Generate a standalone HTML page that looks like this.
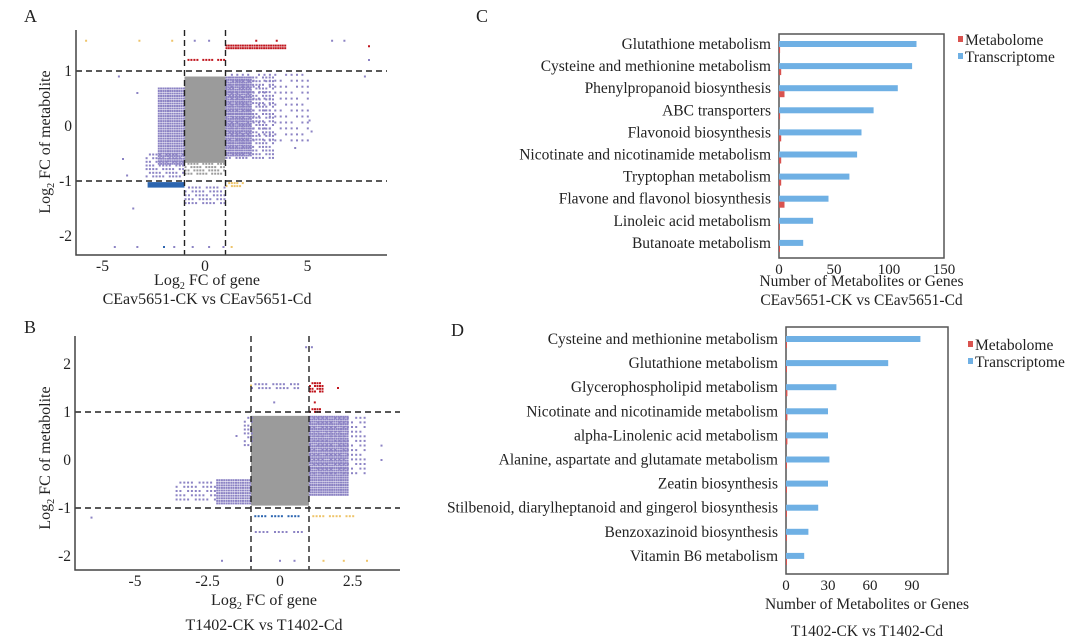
<!DOCTYPE html>
<html><head><meta charset="utf-8">
<style>
html,body{margin:0;padding:0;background:#fff;}
svg{display:block;font-family:"Liberation Serif",serif;}
</style></head>
<body>
<svg id="fig" width="1080" height="642" viewBox="0 0 1080 642" xmlns="http://www.w3.org/2000/svg">
<g id="pA"></g>
<g id="pB"></g>
<g id="pC"></g>
<g id="pD"></g>
</svg>
<script>
// ---------- Panel C data ----------
const catsC = ["Glutathione metabolism","Cysteine and methionine metabolism","Phenylpropanoid biosynthesis","ABC transporters","Flavonoid biosynthesis","Nicotinate and nicotinamide metabolism","Tryptophan metabolism","Flavone and flavonol biosynthesis","Linoleic acid metabolism","Butanoate metabolism"];
const transC = [125,121,108,86,75,71,64,45,31,22];
const metabC = [1,2,5,1,2,2,2,5,0.5,0.5];
const ticksC = [0,50,100,150];
// ---------- Panel D data ----------
const catsD = ["Cysteine and methionine metabolism","Glutathione metabolism","Glycerophospholipid metabolism","Nicotinate and nicotinamide metabolism","alpha-Linolenic acid metabolism","Alanine, aspartate and glutamate metabolism","Zeatin biosynthesis","Stilbenoid, diarylheptanoid and gingerol biosynthesis","Benzoxazinoid biosynthesis","Vitamin B6 metabolism"];
const transD = [96,73,36,30,30,31,30,23,16,13];
const metabD = [0.3,0.5,1,1,1,0.5,0.3,0.3,0.3,0.3];
const ticksD = [0,30,60,90];
// ---------- Panel A scatter data (clusters: x0,x1,y0,y1 in log2 units) ----------
const ticksAx = [-5,0,5];
const ticksAy = [1,0,-1,-2];
const clusterAx0 = [-1, -2.3, -2.9, 1, 1, 1, -2.8, 1, -1, 1, -1, -1];
const clusterAx1 = [1, -1, -1, 2.2, 3.4, 5.2, -1, 1.9, 1, 3.9, 1, 1];
const clusterAy0 = [-0.67, -0.7, -0.95, -0.55, -0.6, -0.3, -1.12, -1.1, -1.45, 1.42, 1.17, -0.9];
const clusterAy1 = [0.9, 0.7, -0.5, 0.9, 0.9, 0.95, -1.02, -1.02, -1.1, 1.48, 1.22, -0.67];
const clusterAc = ["gray","purple","purple","purple","purple","purple","blue","yellow","purple","red","red","gray"];
const clusterAd = [1, 0.85, 0.4, 0.9, 0.4, 0.15, 1, 0.6, 0.35, 0.8, 0.5, 0.5];
const ptsAx = [-5.8,-3.2,-1.6,-0.5,0.2,2.5,3.5,6.2,6.8,8,8,7.8,-4.4,-3.3,-2,-1.5,-0.6,0.2,0.9,1.3,-3.5,4.4,5.1,5.2,-4,-3.8,-3.3,-4.2];
const ptsAy = [1.55,1.55,1.55,1.55,1.55,1.55,1.55,1.55,1.55,1.45,1.2,0.9,-2.2,-2.2,-2.2,-2.2,-2.2,-2.2,-2.2,-2.2,-1.5,-0.4,0.1,-0.1,-0.6,-0.9,0.6,0.9];
const ptsAc = ["yellow","yellow","yellow","purple","purple","red","red","purple","purple","red","purple","purple","purple","purple","blue","purple","purple","purple","purple","yellow","purple","purple","purple","purple","purple","purple","purple","purple"];
// ---------- Panel B scatter data ----------
const ticksBx = [-5,-2.5,0,2.5];
const ticksBy = [2,1,0,-1,-2];
const clusterBx0 = [-1, -1.25, 1, 1, -2.2, -3.6, 1, 1, -1, -1, -1, 1];
const clusterBx1 = [1, -1, 2.3, 3, -1, -2.2, 1.5, 1.4, 0.6, 0.8, 0.8, 2.5];
const clusterBy0 = [-0.95, 0.3, -0.75, -0.3, -0.9, -0.85, 1.4, 1.0, 1.45, -1.22, -1.55, -1.22];
const clusterBy1 = [0.92, 0.9, 0.92, 0.9, -0.4, -0.45, 1.62, 1.08, 1.6, -1.15, -1.48, -1.15];
const clusterBc = ["gray","purple","purple","purple","purple","purple","red","red","purple","blue","purple","yellow"];
const clusterBd = [1, 0.35, 0.9, 0.25, 0.8, 0.3, 0.7, 0.7, 0.35, 0.4, 0.3, 0.4];
const ptsBx = [-6.5,-2,-1,0,0.5,1.5,2.2,-1,0.9,1.1,3,3.5,3.5,1.2,2,-1.5,-0.2];
const ptsBy = [-1.2,-2.1,-2.1,-2.1,-2.1,-2.1,-2.1,1.55,2.35,2.35,-2.1,0.3,0,1.2,1.5,0.5,1.2];
const ptsBc = ["purple","purple","purple","purple","purple","yellow","yellow","yellow","purple","purple","yellow","purple","purple","red","red","purple","purple"];

const NS = "http://www.w3.org/2000/svg";
const COLORS = {gray:"#9b9b9b",purple:"#8c83c4",red:"#c0161e",blue:"#2d66b0",yellow:"#eec46a"};
function mk(parent, tag, attrs, text){
  const e = document.createElementNS(NS, tag);
  for (const k in attrs) e.setAttribute(k, attrs[k]);
  if (text !== undefined) e.textContent = text;
  parent.appendChild(e);
  return e;
}

// ---------- scatter panels ----------
function scatter(g, cfg){
  const X = v => cfg.x0 + v*cfg.kx;
  const Y = v => cfg.y0 - v*cfg.ky;
  for (let i=0;i<cfg.cx0.length;i++){
    const px0 = X(cfg.cx0[i]), px1 = X(cfg.cx1[i]);
    const py1 = Y(cfg.cy0[i]), py0 = Y(cfg.cy1[i]);
    const col = COLORS[cfg.cc[i]];
    if (cfg.cd[i] >= 1){
      const r = mk(g,"rect",{x:px0,y:py0,width:px1-px0,height:py1-py0,fill:col});
      
      
      continue;
    }
    const cg = mk(g,"g",{fill:col});
    
    
    const step = 2.1 / Math.sqrt(cfg.cd[i]);
    let row = 0;
    for (let yy=py0; yy<=py1; yy+=step*1.1){
      row++;
      let col2 = 0;
      for (let xx=px0; xx<=px1; xx+=step){
        col2++;
        if (((row*7+col2*3) % 5) === 0 && cfg.cd[i] < 0.8) continue;
        mk(cg,"rect",{x:xx.toFixed(1),y:yy.toFixed(1),width:2,height:2});
      }
    }
  }
  for (let i=0;i<cfg.px.length;i++){
    const p = mk(g,"rect",{x:X(cfg.px[i])-1,y:Y(cfg.py[i])-1,width:2,height:2,fill:COLORS[cfg.pc[i]]});
    
    
  }
  const dl = [[X(-1),cfg.top,X(-1),cfg.bottom],[X(1),cfg.top,X(1),cfg.bottom],[cfg.left,Y(1),cfg.right,Y(1)],[cfg.left,Y(-1),cfg.right,Y(-1)]];
  dl.forEach(d=>{
    const l = mk(g,"line",{x1:d[0],y1:d[1],x2:d[2],y2:d[3],stroke:"#222","stroke-width":1.4,"stroke-dasharray":"6 4"});
    
    
  });
  const ax = mk(g,"path",{d:`M${cfg.left} ${cfg.top} V${cfg.bottom} H${cfg.right}`,fill:"none",stroke:"#444","stroke-width":1.5});
  
  
  cfg.tx.forEach(t=>{
    const e = mk(g,"text",{x:X(t),y:cfg.bottom+16,"text-anchor":"middle","font-size":15.5,fill:"#222"},String(t));
    
    
  });
  cfg.ty.forEach(t=>{
    const e = mk(g,"text",{x:cfg.left-4,y:Y(t)+5,"text-anchor":"end","font-size":15.5,fill:"#222"},String(t));
    
    
  });
  const yt = mk(g,"text",{x:0,y:0,"text-anchor":"middle","font-size":16,fill:"#222",transform:`translate(${cfg.ytx},${cfg.yty}) rotate(-90)`});
  
  
  yt.innerHTML = 'Log<tspan font-size="10" dy="4">2</tspan><tspan dy="-4"> FC of metabolite</tspan>';
  const xt = mk(g,"text",{x:cfg.xtx,y:cfg.xty,"text-anchor":"middle","font-size":16,fill:"#222"});
  
  
  xt.innerHTML = 'Log<tspan font-size="10" dy="4">2</tspan><tspan dy="-4"> FC of gene</tspan>';
  const st = mk(g,"text",{x:cfg.xtx,y:cfg.sty,"text-anchor":"middle","font-size":16,fill:"#222"},cfg.sub);
  
  
  const lt = mk(g,"text",{x:cfg.lx,y:cfg.ly,"font-size":18,fill:"#222"},cfg.letter);
  
  
}
scatter(document.getElementById("pA"),{x0:205,kx:20.5,y0:126,ky:55,left:76,right:387,top:30,bottom:255,
  cx0:clusterAx0,cx1:clusterAx1,cy0:clusterAy0,cy1:clusterAy1,cc:clusterAc,cd:clusterAd,
  px:ptsAx,py:ptsAy,pc:ptsAc,tx:ticksAx,ty:ticksAy,ytx:50,yty:142,xtx:207,xty:285,sty:304,
  sub:"CEav5651-CK vs CEav5651-Cd",letter:"A",lx:24,ly:22});
scatter(document.getElementById("pB"),{x0:280,kx:29,y0:460,ky:48,left:75,right:400,top:336,bottom:570,
  cx0:clusterBx0,cx1:clusterBx1,cy0:clusterBy0,cy1:clusterBy1,cc:clusterBc,cd:clusterBd,
  px:ptsBx,py:ptsBy,pc:ptsBc,tx:ticksBx,ty:ticksBy,ytx:50,yty:458,xtx:264,xty:605,sty:630,
  sub:"T1402-CK vs T1402-Cd",letter:"B",lx:24,ly:333});

// ---------- bar panels ----------
function bars(g, cfg){
  const X = v => cfg.left + v*cfg.k;
  const rowY = i => cfg.first + i*cfg.step;
  const box = mk(g,"rect",{x:cfg.left,y:cfg.top,width:cfg.right-cfg.left,height:cfg.bottom-cfg.top,fill:"none",stroke:"#555","stroke-width":1.5});
  
  
  cfg.cats.forEach((c,i)=>{
    const y = rowY(i);
    const t = mk(g,"text",{x:cfg.left-8,y:y+5,"text-anchor":"end","font-size":15.5,fill:"#222"},c);
    
    
    const b = mk(g,"rect",{x:cfg.left,y:y-3,width:X(cfg.trans[i])-cfg.left,height:6,fill:"#6fb0e4"});
    
    
    const r = mk(g,"rect",{x:cfg.left,y:y+3,width:Math.max(1,X(cfg.metab[i])-cfg.left),height:6,fill:"#d9534f"});
    
    
  });
  cfg.ticks.forEach(t=>{
    const e = mk(g,"text",{x:X(t),y:cfg.bottom+16,"text-anchor":"middle","font-size":15,fill:"#222"},String(t));
    
    
  });
  const mid = (cfg.left+cfg.right)/2;
  const xt = mk(g,"text",{x:mid,y:cfg.xty,"text-anchor":"middle","font-size":15.5,fill:"#222"},"Number of Metabolites or Genes");
  
  
  const st = mk(g,"text",{x:mid,y:cfg.sty,"text-anchor":"middle","font-size":15.5,fill:"#222"},cfg.sub);
  
  
  const lg = mk(g,"g",{});
  
  
  const s1 = mk(lg,"rect",{x:cfg.lgx,y:cfg.lgy-9,width:5,height:6,fill:"#d9534f"});
  
  
  const t1 = mk(lg,"text",{x:cfg.lgx+7,y:cfg.lgy,"font-size":15.5,fill:"#222"},"Metabolome");
  
  
  const s2 = mk(lg,"rect",{x:cfg.lgx,y:cfg.lgy+8,width:5,height:6,fill:"#6fb0e4"});
  
  
  const t2 = mk(lg,"text",{x:cfg.lgx+7,y:cfg.lgy+17,"font-size":15.5,fill:"#222"},"Transcriptome");
  
  
  const lt = mk(g,"text",{x:cfg.lx,y:cfg.ly,"font-size":18,fill:"#222"},cfg.letter);
  
  
}
bars(document.getElementById("pC"),{cats:catsC,trans:transC,metab:metabC,ticks:ticksC,
  left:779,right:944,top:34,bottom:258,k:1.1,first:44,step:22.1,xty:286,sty:305,
  sub:"CEav5651-CK vs CEav5651-Cd",lgx:958,lgy:45,letter:"C",lx:476,ly:22});
bars(document.getElementById("pD"),{cats:catsD,trans:transD,metab:metabD,ticks:ticksD,
  left:786,right:948,top:327,bottom:574,k:1.4,first:339,step:24.1,xty:609,sty:636,
  sub:"T1402-CK vs T1402-Cd",lgx:968,lgy:350,letter:"D",lx:451,ly:336});
</script>
</body></html>
